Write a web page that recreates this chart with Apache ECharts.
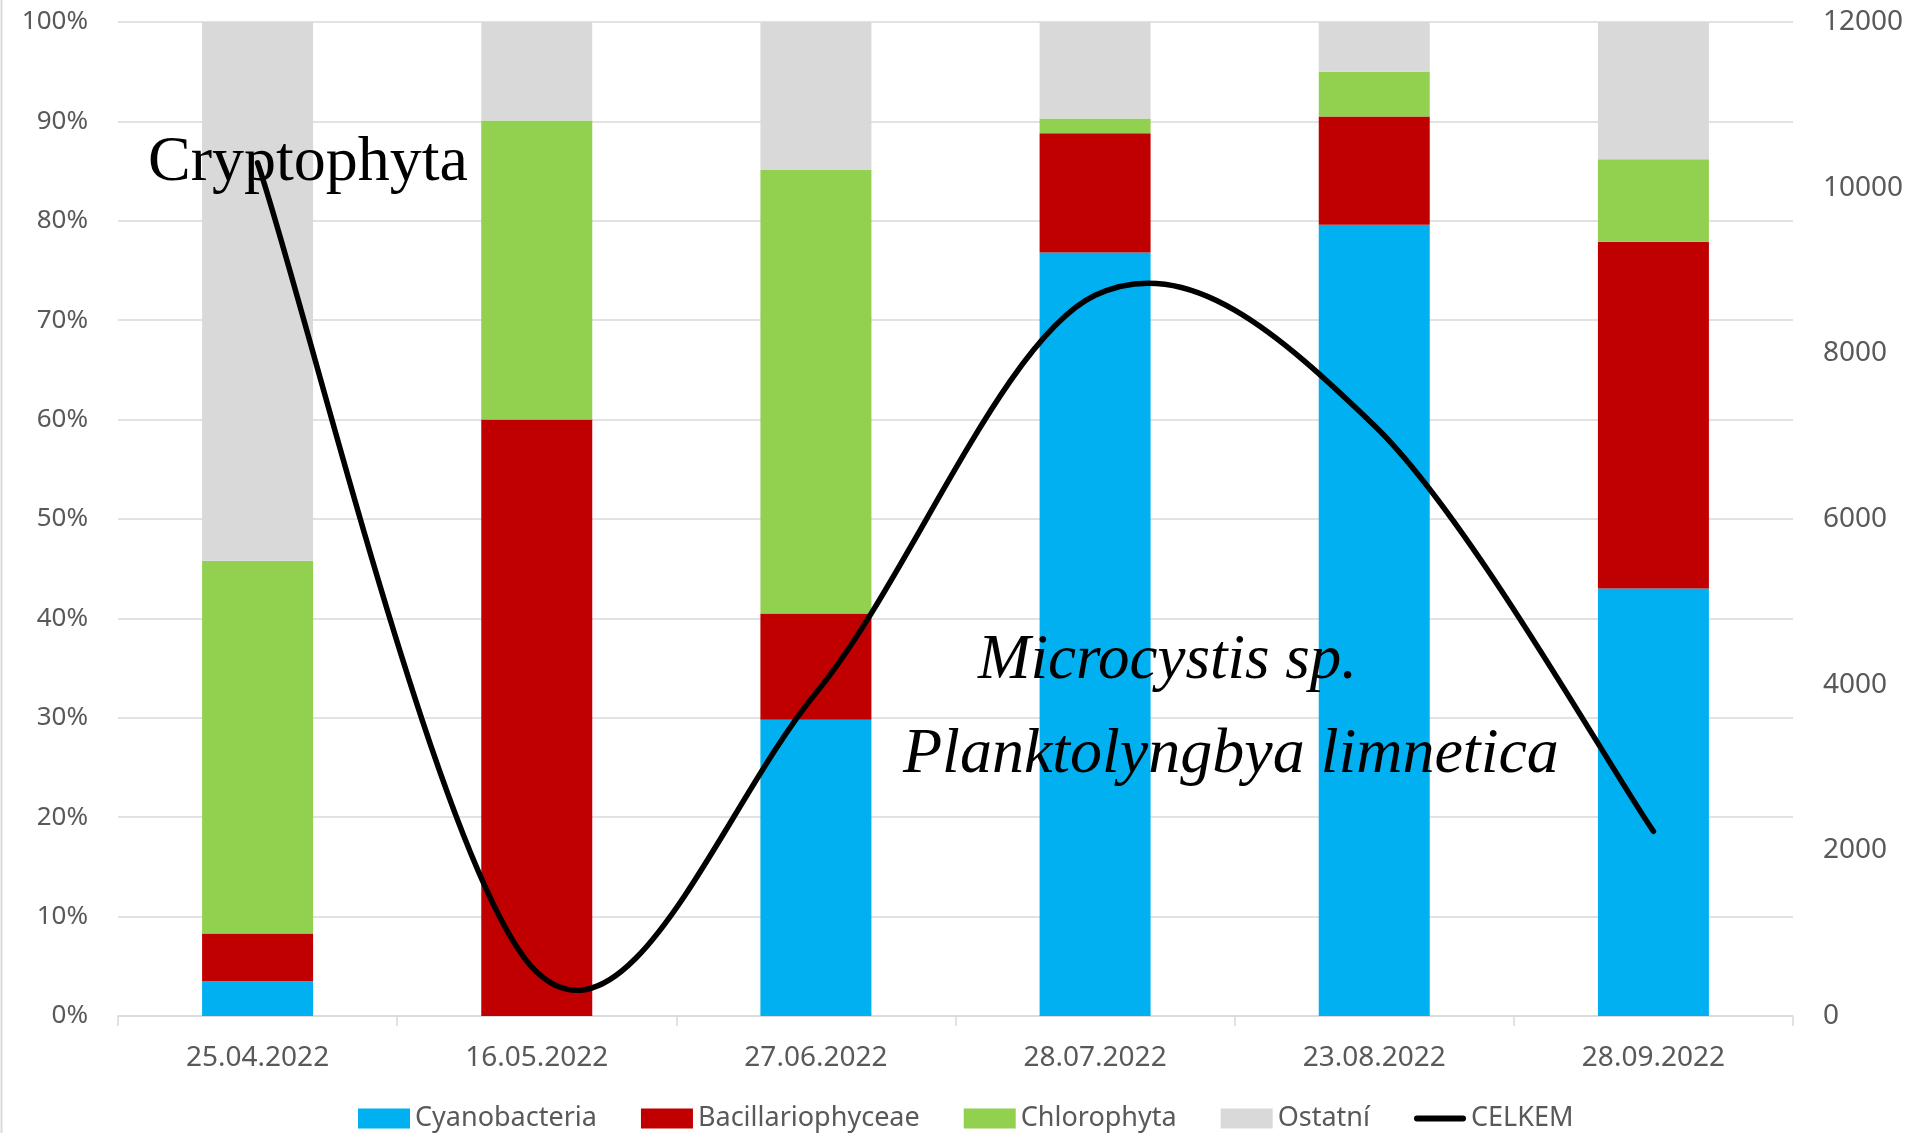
<!DOCTYPE html>
<html>
<head>
<meta charset="utf-8">
<script src="https://cdn.jsdelivr.net/npm/echarts@6/dist/echarts.min.js"></script>
<style>
  html, body { margin: 0; padding: 0; background: #ffffff; }
  #chart { width: 1907px; height: 1133px; }
</style>
</head>
<body>
<div id="chart"></div>
<script>
const categories = ['25.04.2022', '16.05.2022', '27.06.2022', '28.07.2022', '23.08.2022', '28.09.2022'];
const cyanobacteria = [3.5, 0, 29.8, 76.8, 79.6, 43.0];
const bacillariophyceae = [4.8, 60.0, 10.7, 12.0, 10.9, 34.9];
const chlorophyta = [37.5, 30.1, 44.6, 1.5, 4.5, 8.3];
const ostatni = [54.2, 9.9, 14.9, 9.7, 5.0, 13.8];
const celkem = [10300, 530, 3900, 8700, 7130, 2230];

const axisFont = 'Noto Sans';
const labelColor = '#595959';
const gridColor = '#d9d9d9';

const chart = echarts.init(document.getElementById('chart'), null, { renderer: 'canvas' });

const barSeries = (name, data, color) => ({
  name: name,
  type: 'bar',
  stack: 'total',
  data: data,
  barWidth: 111,
  itemStyle: { color: color },
  emphasis: { disabled: true },
  yAxisIndex: 0
});

// Smoothed line (Excel-like Catmull-Rom) drawn through the axis scales
function renderSmoothLine(params, api) {
  if (params.dataIndex !== 0) return null;
  const pts = celkem.map((v, i) => api.coord([i, v]));
  const n = pts.length;
  let d = 'M' + pts[0][0] + ',' + pts[0][1];
  for (let i = 0; i < n - 1; i++) {
    const p0 = pts[Math.max(i - 1, 0)];
    const p1 = pts[i];
    const p2 = pts[i + 1];
    const p3 = pts[Math.min(i + 2, n - 1)];
    const c1x = p1[0] + (p2[0] - p0[0]) / 6;
    const c1y = p1[1] + (p2[1] - p0[1]) / 6;
    const c2x = p2[0] - (p3[0] - p1[0]) / 6;
    const c2y = p2[1] - (p3[1] - p1[1]) / 6;
    d += 'C' + c1x + ',' + c1y + ',' + c2x + ',' + c2y + ',' + p2[0] + ',' + p2[1];
  }
  return {
    type: 'path',
    shape: { pathData: d },
    style: { fill: 'none', stroke: '#000000', lineWidth: 5.5, lineCap: 'round', lineJoin: 'round' },
    silent: true
  };
}

chart.setOption({
  animation: false,
  backgroundColor: '#ffffff',
  grid: { left: 118, right: 114, top: 22, bottom: 117, containLabel: false, outerBoundsMode: 'none' },
  legend: {
    left: 358,
    top: 1105,
    padding: 0,
    itemWidth: 52,
    itemHeight: 20,
    itemGap: 44,
    selectedMode: false,
    textStyle: { fontFamily: axisFont, fontSize: 27, color: labelColor },
    data: [
      { name: 'Cyanobacteria', icon: 'rect' },
      { name: 'Bacillariophyceae', icon: 'rect' },
      { name: 'Chlorophyta', icon: 'rect' },
      { name: 'Ostatní', icon: 'rect' },
      { name: 'CELKEM', icon: 'path://M0,0M52,20M3,7L49,7A3,3,0,0,1,49,13L3,13A3,3,0,0,1,3,7Z', itemStyle: { color: '#000000' } }
    ]
  },
  xAxis: {
    type: 'category',
    data: categories,
    boundaryGap: true,
    axisLine: { show: true, lineStyle: { color: gridColor, width: 1.5 } },
    axisTick: { show: true, alignWithLabel: false, length: 10, lineStyle: { color: gridColor, width: 1.5 } },
    axisLabel: { fontFamily: axisFont, fontSize: 28, color: labelColor, margin: 28 },
    splitLine: { show: false }
  },
  yAxis: [
    {
      type: 'value',
      min: 0,
      max: 100,
      interval: 10,
      axisLine: { show: false },
      axisTick: { show: false },
      axisLabel: { formatter: '{value}%', fontFamily: axisFont, fontSize: 26, color: labelColor, margin: 30 },
      splitLine: { show: true, lineStyle: { color: gridColor, width: 1.6 } }
    },
    {
      type: 'value',
      min: 0,
      max: 12000,
      interval: 2000,
      position: 'right',
      axisLine: { show: false },
      axisTick: { show: false },
      axisLabel: { formatter: (v) => String(v), fontFamily: axisFont, fontSize: 28, color: labelColor, margin: 30 },
      splitLine: { show: false }
    }
  ],
  series: [
    barSeries('Cyanobacteria', cyanobacteria, '#00B0F0'),
    barSeries('Bacillariophyceae', bacillariophyceae, '#C00000'),
    barSeries('Chlorophyta', chlorophyta, '#92D050'),
    barSeries('Ostatní', ostatni, '#D9D9D9'),
    {
      name: 'CELKEM',
      type: 'custom',
      coordinateSystem: 'cartesian2d',
      xAxisIndex: 0,
      yAxisIndex: 1,
      data: celkem.map((v, i) => [i, v]),
      encode: { x: 0, y: 1 },
      renderItem: renderSmoothLine,
      itemStyle: { color: '#000000' },
      clip: false,
      z: 5
    }
  ],
  graphic: [
    {
      type: 'line',
      shape: { x1: 1.5, y1: 0, x2: 1.5, y2: 1133 },
      style: { stroke: gridColor, lineWidth: 2 }
    },
    {
      type: 'text',
      left: 148, top: 131,
      z: 10,
      style: { text: 'Cryptophyta', font: '64px "Liberation Serif"', fill: '#000000' }
    },
    {
      type: 'text',
      left: 978, top: 630,
      z: 10,
      style: { text: 'Microcystis sp.', font: 'italic 63px "Liberation Serif"', fill: '#000000' }
    },
    {
      type: 'text',
      left: 903, top: 723,
      z: 10,
      style: { text: 'Planktolyngbya limnetica', font: 'italic 64px "Liberation Serif"', fill: '#000000' }
    }
  ]
});
</script>
</body>
</html>
